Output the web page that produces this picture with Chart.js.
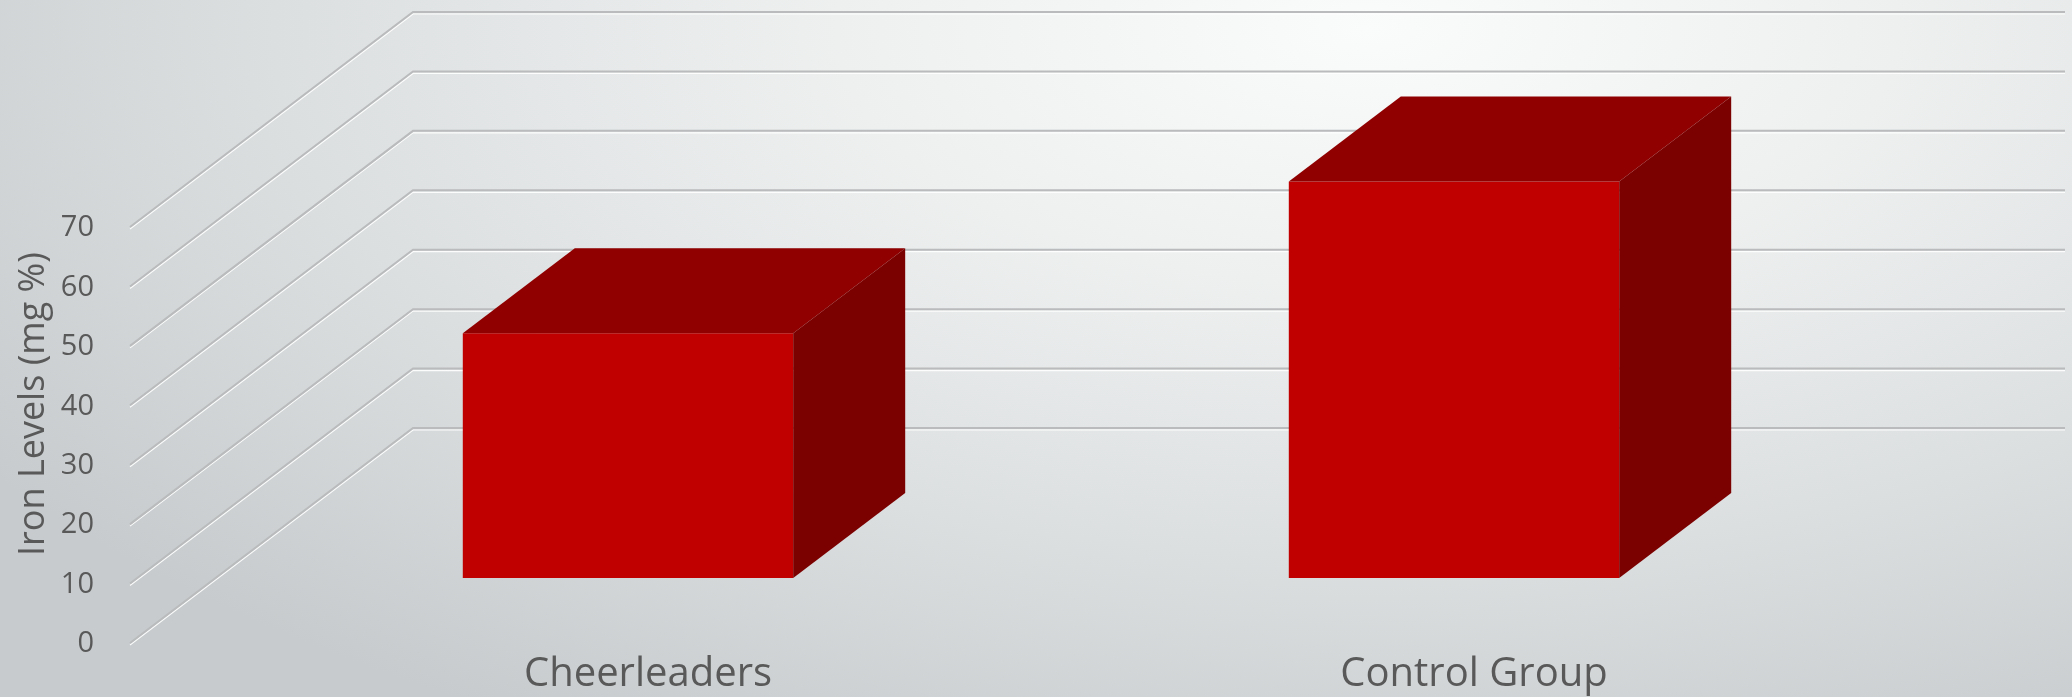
<!DOCTYPE html>
<html>
<head>
<meta charset="utf-8">
<script src="https://cdn.jsdelivr.net/npm/chart.js@4.4.1/dist/chart.umd.min.js"></script>
<style>
  html, body { margin: 0; padding: 0; }
  body {
    width: 2072px; height: 697px; overflow: hidden;
    background: radial-gradient(ellipse 80% 115% at 66% 4%, #fafbfb 0%, #eef0f0 32%, #dcdfe0 66%, #c7cbcd 100%);
  }
  #ironChart { display: block; }
</style>
</head>
<body>
<canvas id="ironChart" width="2072" height="697"></canvas>
<script>
// 3D 막대 차트 재현 — 데이터는 맨 위 배열에
const categories = ["Cheerleaders", "Control Group"];
const ironLevels = [41.2, 66.7];
const yTickValues = [0, 10, 20, 30, 40, 50, 60, 70];
const yAxisTitle = "Iron Levels (mg %)";

const TEXT_COLOR = "#595959";
const FONT = "'Open Sans', 'DejaVu Sans', sans-serif";

// 깊이(경사 투영) — 막대 앞면 기준
const FLOOR_FRONT = { dx: -85, dy: 65 };   // 앞쪽 바닥 모서리
const BACK_WALL = { dx: 198, dy: -150 };   // 뒷벽
const BAR_DEPTH = { dx: 112, dy: -85 };    // 막대 두께

const wallPlugin = {
  id: "wall3d",
  beforeDatasetsDraw(chart) {
    const { ctx, chartArea } = chart;
    const y = chart.scales.y;
    ctx.save();
    yTickValues.forEach((v) => {
      const py = y.getPixelForValue(v);
      const fx = chartArea.left + FLOOR_FRONT.dx, fy = py + FLOOR_FRONT.dy;
      const bx = chartArea.left + BACK_WALL.dx, by = py + BACK_WALL.dy;
      const ex = chartArea.right + BACK_WALL.dx;
      // 흰 하이라이트
      ctx.strokeStyle = "rgba(255,255,255,0.9)";
      ctx.lineWidth = 1.2;
      ctx.beginPath();
      ctx.moveTo(fx, fy + 2);
      ctx.lineTo(bx, by + 2);
      ctx.lineTo(ex, by + 2);
      ctx.stroke();
      // 회색 선
      ctx.strokeStyle = "#b9bbbc";
      ctx.lineWidth = 2;
      ctx.beginPath();
      ctx.moveTo(fx, fy);
      ctx.lineTo(bx, by);
      ctx.lineTo(ex, by);
      ctx.stroke();
    });
    ctx.restore();
  },
  afterDatasetsDraw(chart) {
    const { ctx } = chart;
    const meta = chart.getDatasetMeta(0);
    ctx.save();
    meta.data.forEach((bar) => {
      const { x, y, base, width } = bar.getProps(["x", "y", "base", "width"], true);
      const l = x - width / 2, r = x + width / 2;
      const dx = BAR_DEPTH.dx, dy = BAR_DEPTH.dy;
      // 윗면
      ctx.fillStyle = "#900000";
      ctx.beginPath();
      ctx.moveTo(l, y);
      ctx.lineTo(l + dx, y + dy);
      ctx.lineTo(r + dx, y + dy);
      ctx.lineTo(r, y);
      ctx.closePath();
      ctx.fill();
      // 옆면
      ctx.fillStyle = "#7b0000";
      ctx.beginPath();
      ctx.moveTo(r, y);
      ctx.lineTo(r + dx, y + dy);
      ctx.lineTo(r + dx, base + dy);
      ctx.lineTo(r, base);
      ctx.closePath();
      ctx.fill();
    });
    ctx.restore();
  },
  afterDraw(chart) {
    const { ctx } = chart;
    ctx.save();
    ctx.translate(34, 404);
    ctx.rotate(-Math.PI / 2);
    ctx.fillStyle = TEXT_COLOR;
    ctx.font = "36px " + FONT;
    ctx.textAlign = "center";
    ctx.textBaseline = "middle";
    ctx.fillText(yAxisTitle, 0, 0);
    ctx.restore();
  },
};

new Chart(document.getElementById("ironChart"), {
  type: "bar",
  data: {
    labels: categories,
    datasets: [
      {
        label: yAxisTitle,
        data: ironLevels,
        backgroundColor: "#c00000",
        borderWidth: 0,
        barPercentage: 0.4,
        categoryPercentage: 1,
      },
    ],
  },
  options: {
    responsive: false,
    animation: false,
    devicePixelRatio: 1,
    layout: { padding: { top: 162, right: 205, left: 0, bottom: 0 } },
    plugins: { legend: { display: false }, tooltip: { enabled: false } },
    scales: {
      x: {
        grid: { display: false, drawTicks: false },
        border: { display: false },
        ticks: {
          color: TEXT_COLOR,
          font: { family: FONT, size: 40 },
          padding: 73,
          labelOffset: 20,
          maxRotation: 0,
        },
        afterFit(scale) { scale.height = 119; },
      },
      y: {
        min: 0,
        max: 70,
        grid: { display: false, drawTicks: false },
        border: { display: false },
        afterBuildTicks(scale) { scale.ticks = yTickValues.map((v) => ({ value: v })); },
        ticks: {
          color: TEXT_COLOR,
          font: { family: FONT, size: 29 },
          padding: 121,
          labelOffset: 66,
        },
        afterFit(scale) {
          scale.width = 215;
          scale.paddingTop = 0;
          scale.paddingBottom = 0;
        },
      },
    },
  },
  plugins: [wallPlugin],
});
</script>
</body>
</html>
